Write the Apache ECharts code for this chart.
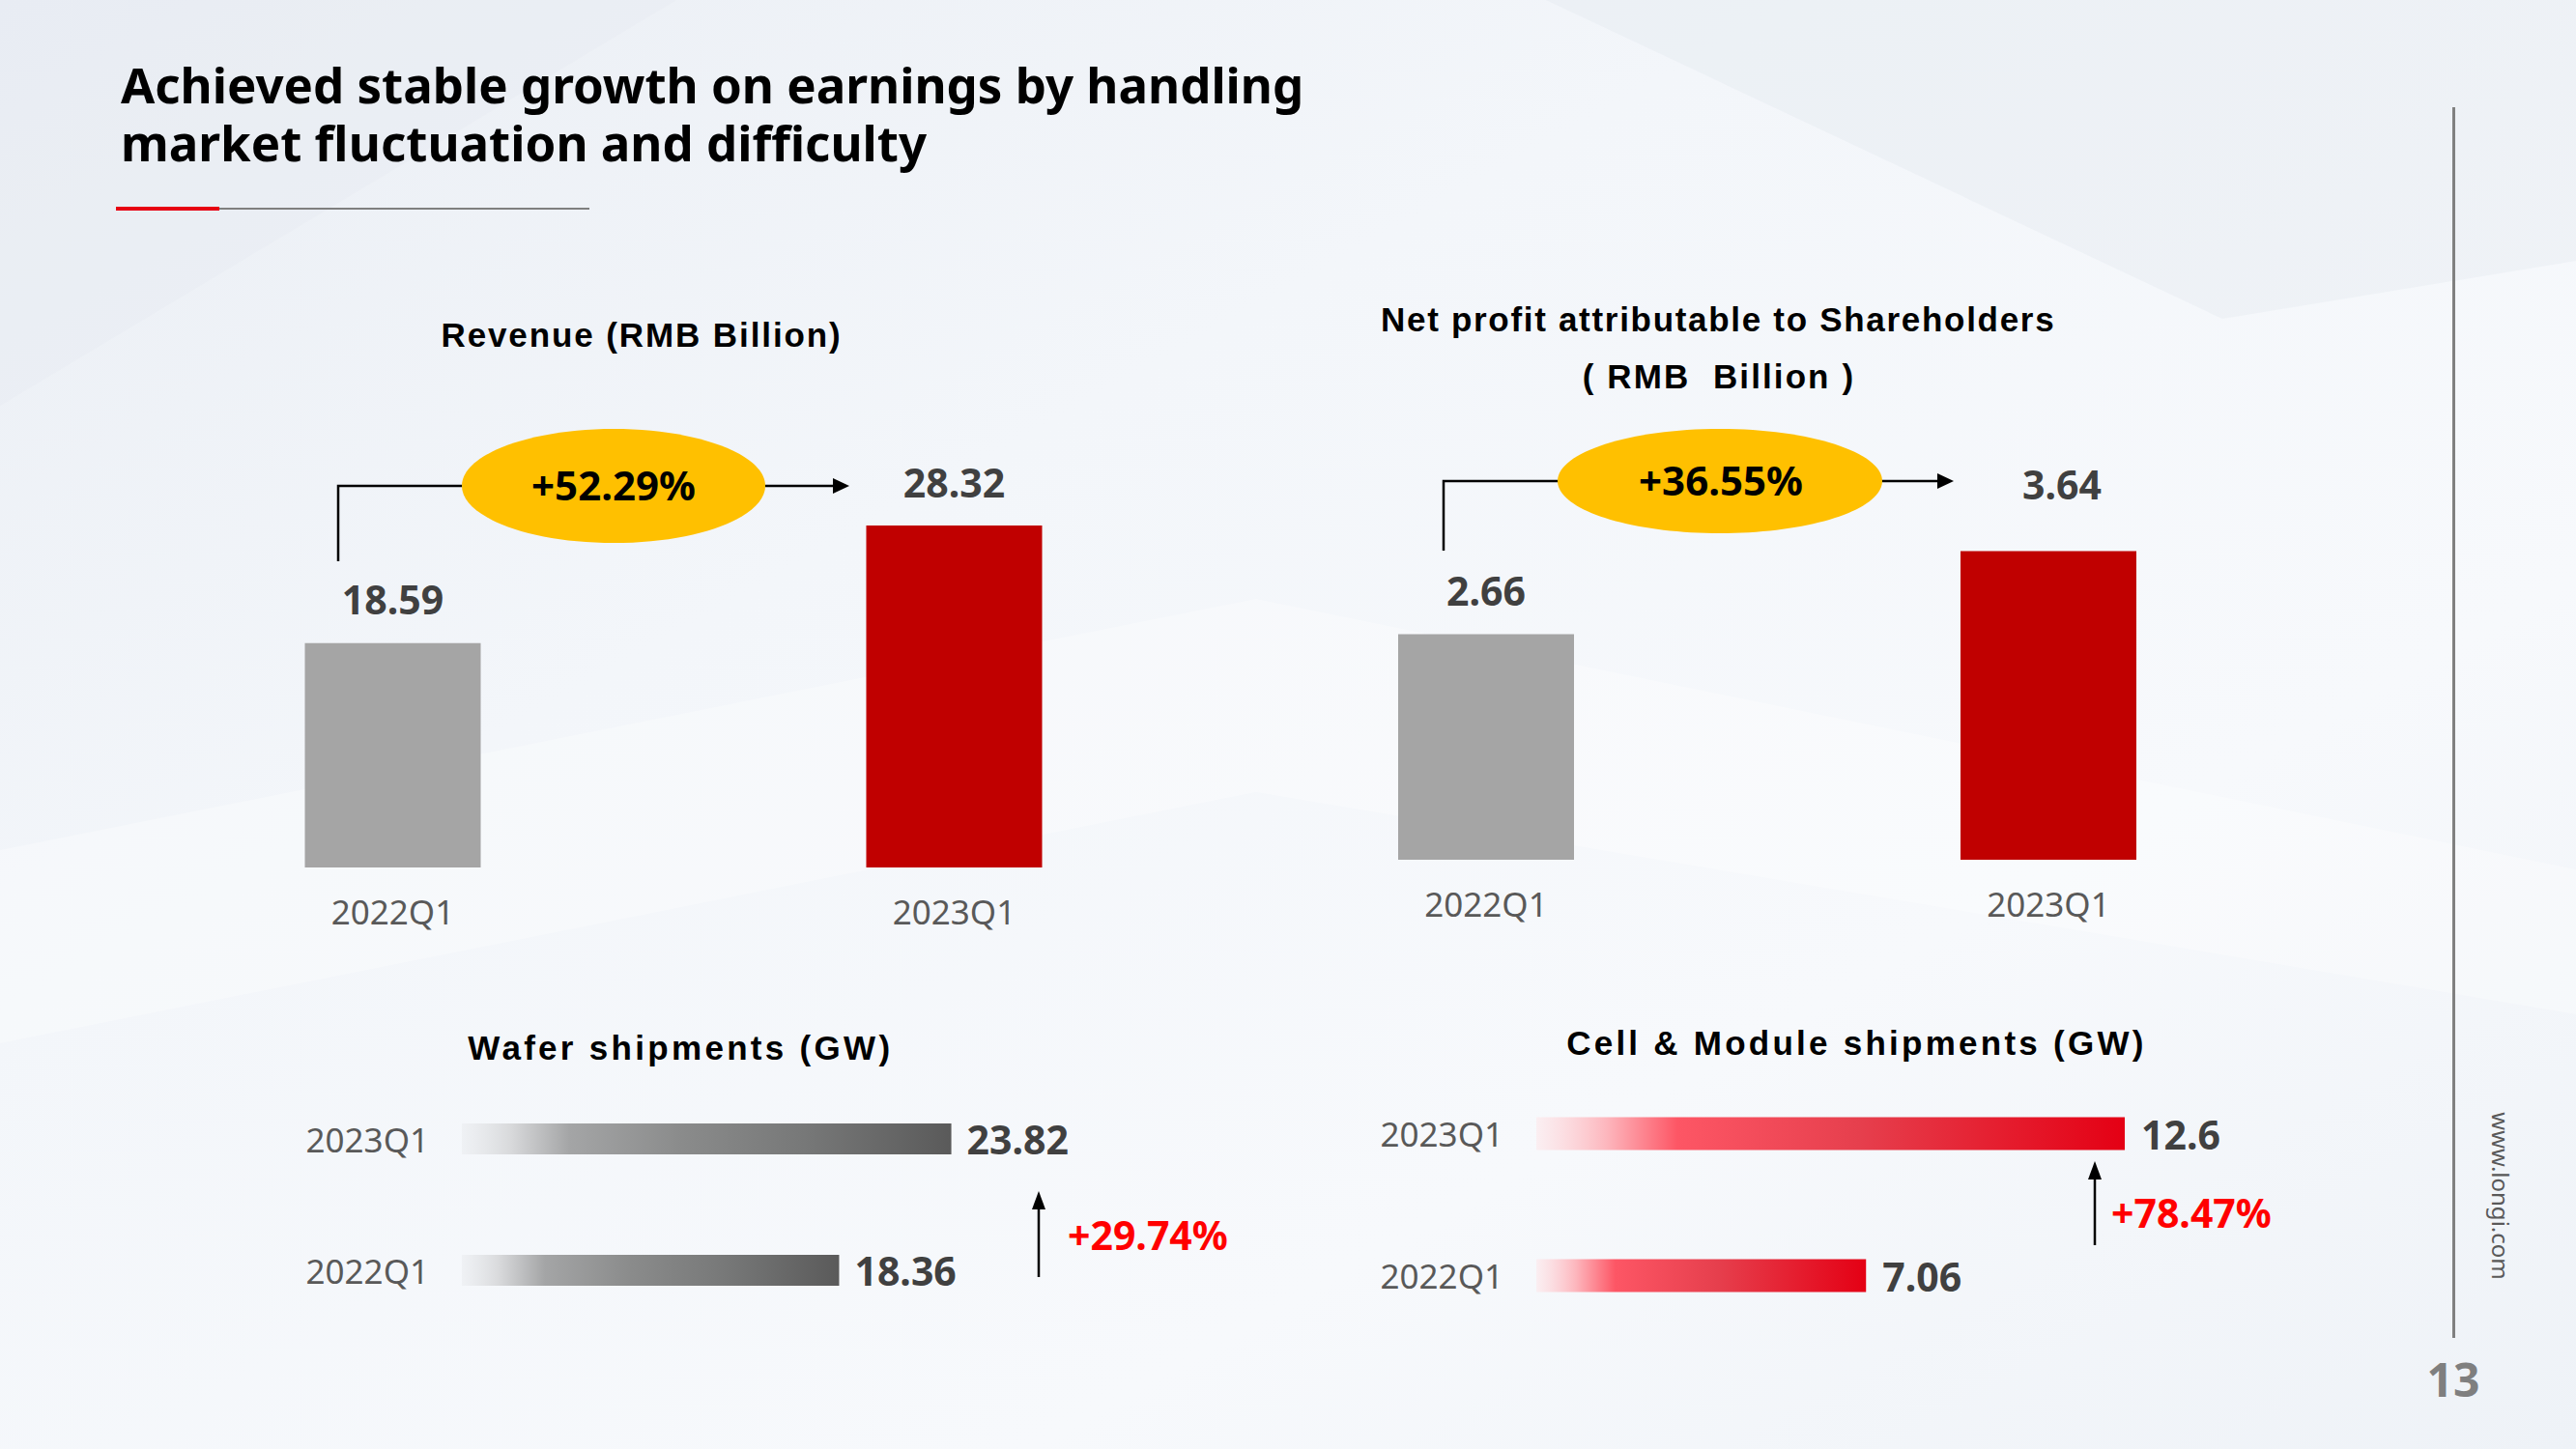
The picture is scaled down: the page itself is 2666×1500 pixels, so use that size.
<!DOCTYPE html>
<html><head><meta charset="utf-8">
<script src="https://cdn.jsdelivr.net/npm/echarts@6/dist/echarts.min.js"></script>
<style>html,body{margin:0;padding:0;width:2666px;height:1500px;overflow:hidden;background:#f3f6fa}#c{width:2666px;height:1500px}</style>
</head><body><div id="c"></div>
<script>
// ---- data ----
const periods = ['2022Q1', '2023Q1'];
const revenue = [18.59, 28.32];
const netProfit = [2.66, 3.64];
const wafer = [18.36, 23.82];
const cellModule = [7.06, 12.6];
const growth = ['+52.29%', '+36.55%', '+29.74%', '+78.47%'];
const mainTitle = ['Achieved stable growth on earnings by handling', 'market fluctuation and difficulty'];
const chartTitles = ['Revenue (RMB Billion)', 'Net profit attributable to Shareholders', '( RMB  Billion )', 'Wafer shipments (GW)', 'Cell & Module shipments (GW)'];
const pageNo = '13';
const site = 'www.longi.com';

// ---- styles ----
const colBar = ['#A5A5A5', '#C00000'];
const FONT = '"Noto Sans", "Open Sans", sans-serif';
const TFONT = '"Liberation Sans", Arial, sans-serif';
const titleSpacing = [1.9, 1.7, 2.1, 3.3, 3.25];
const grayGrad = new echarts.graphic.LinearGradient(0, 0, 1, 0, [
  {offset: 0, color: 'rgba(235,237,240,0.6)'},
  {offset: 0.1, color: '#d8d9db'},
  {offset: 0.22, color: '#a4a5a6'},
  {offset: 0.45, color: '#8a8b8b'},
  {offset: 0.7, color: '#777878'},
  {offset: 1, color: '#5a5a5a'}]);
const redGrad = new echarts.graphic.LinearGradient(0, 0, 1, 0, [
  {offset: 0, color: 'rgba(253,232,235,0.6)'},
  {offset: 0.12, color: '#fdb6bd'},
  {offset: 0.24, color: '#fd5665'},
  {offset: 0.55, color: '#e63f4d'},
  {offset: 1, color: '#e40014'}]);

const valLabel = {show: true, fontFamily: FONT, fontWeight: 'bold', fontSize: 41, color: '#404040'};
const catLabel = {fontFamily: FONT, fontSize: 35, color: '#595959'};

function vItems(vals, extra) {
  return vals.map((v, i) => Object.assign({value: v, itemStyle: {color: colBar[i]}}, extra ? extra[i] : {}));
}

const chart = echarts.init(document.getElementById('c'), null, {renderer: 'svg'});

function txt(x, y, text, size, weight, color, family, align, extra, styleExtra) {
  return Object.assign({type: 'text', x: x, y: y, silent: true, z: 10,
    style: Object.assign({text: text, fontSize: size, fontWeight: weight, fill: color, fontFamily: family,
      align: align || 'center', verticalAlign: 'middle'}, styleExtra || {})}, extra || {});
}

const graphics = [
  // background
  {type: 'rect', shape: {x: 0, y: 0, width: 2666, height: 1500}, z: -100, silent: true,
   style: {fill: new echarts.graphic.LinearGradient(0, 0, 1, 1, [
     {offset: 0, color: '#eaeef4'}, {offset: 0.35, color: '#f3f6fa'},
     {offset: 0.7, color: '#f7f9fc'}, {offset: 1, color: '#eef2f7'}])}},
  {type: 'polygon', shape: {points: [[0, 880], [1300, 620], [2666, 900], [2666, 1050], [1300, 820], [0, 1080]]}, z: -99, silent: true,
   style: {fill: 'rgba(255,255,255,0.3)'}},
  {type: 'polygon', shape: {points: [[1600, 0], [2666, 0], [2666, 270], [2300, 330]]}, z: -99, silent: true,
   style: {fill: 'rgba(222,228,236,0.3)'}},
  {type: 'polygon', shape: {points: [[0, 0], [700, 0], [0, 420]]}, z: -99, silent: true,
   style: {fill: 'rgba(226,231,238,0.25)'}},
  // heading underline
  {type: 'rect', shape: {x: 227, y: 215, width: 383, height: 2}, silent: true, style: {fill: '#7f7f7f'}},
  {type: 'rect', shape: {x: 120, y: 214, width: 107, height: 4}, silent: true, style: {fill: '#E60012'}},
  // right side line
  {type: 'rect', shape: {x: 2538, y: 111, width: 3, height: 1274}, silent: true, style: {fill: '#808080'}},
  // heading
  txt(125, 117, mainTitle.join('\n'), 51, 'bold', '#000', FONT, 'left', null, {lineHeight: 60}),
  // chart titles
  txt(665 - titleSpacing[0] / 2, 346, chartTitles[0], 35, 'bold', '#000', TFONT),
  txt(1779 - titleSpacing[1] / 2, 330, chartTitles[1], 35, 'bold', '#000', TFONT),
  txt(1780 - titleSpacing[2] / 2, 389, chartTitles[2], 35, 'bold', '#000', TFONT),
  txt(706 - titleSpacing[3] / 2, 1084, chartTitles[3], 35, 'bold', '#000', TFONT),
  txt(1923 - titleSpacing[4] / 2, 1079, chartTitles[4], 35, 'bold', '#000', TFONT),
  // revenue connector
  {type: 'polyline', shape: {points: [[350, 581], [350, 503], [478, 503]]}, silent: true, style: {stroke: '#000', lineWidth: 2.5, fill: null}},
  {type: 'line', shape: {x1: 792, y1: 503, x2: 866, y2: 503}, silent: true, style: {stroke: '#000', lineWidth: 2.5}},
  {type: 'polygon', shape: {points: [[879, 503], [862, 495], [862, 511]]}, silent: true, style: {fill: '#000'}},
  {type: 'ellipse', shape: {cx: 635, cy: 503, rx: 157, ry: 59}, silent: true, style: {fill: '#FFC000'}},
  txt(635, 501, growth[0], 42, 'bold', '#000', FONT),
  // net profit connector
  {type: 'polyline', shape: {points: [[1494, 570], [1494, 498], [1613, 498]]}, silent: true, style: {stroke: '#000', lineWidth: 2.5, fill: null}},
  {type: 'line', shape: {x1: 1947, y1: 498, x2: 2009, y2: 498}, silent: true, style: {stroke: '#000', lineWidth: 2.5}},
  {type: 'polygon', shape: {points: [[2022, 498], [2005, 490], [2005, 506]]}, silent: true, style: {fill: '#000'}},
  {type: 'ellipse', shape: {cx: 1780, cy: 498, rx: 168, ry: 54}, silent: true, style: {fill: '#FFC000'}},
  txt(1781, 496, growth[1], 42, 'bold', '#000', FONT),
  // wafer growth arrow
  {type: 'line', shape: {x1: 1075, y1: 1322, x2: 1075, y2: 1248}, silent: true, style: {stroke: '#000', lineWidth: 2.5}},
  {type: 'polygon', shape: {points: [[1075, 1233], [1068, 1252], [1082, 1252]]}, silent: true, style: {fill: '#000'}},
  txt(1105, 1278, growth[2], 41, 'bold', '#FF0000', FONT, 'left'),
  // cell growth arrow
  {type: 'line', shape: {x1: 2168, y1: 1289, x2: 2168, y2: 1218}, silent: true, style: {stroke: '#000', lineWidth: 2.5}},
  {type: 'polygon', shape: {points: [[2168, 1202], [2161, 1221], [2175, 1221]]}, silent: true, style: {fill: '#000'}},
  txt(2185, 1255, growth[3], 41, 'bold', '#FF0000', FONT, 'left'),
  // page number and site
  txt(2539, 1427, pageNo, 48, 'bold', '#7f7f7f', FONT),
  txt(2588, 1238, site, 24, 'normal', '#595959', FONT, 'center', {rotation: -Math.PI / 2})
];

const option = {
  backgroundColor: 'transparent',
  animation: false,
  graphic: {elements: graphics},
  grid: [
    {left: 116, top: 398, width: 1162, height: 500},
    {left: 1247, top: 451, width: 1164, height: 439},
    {left: 478, top: 1111, width: 638, height: 272},
    {left: 1590, top: 1100, width: 725, height: 294}
  ],
  xAxis: [
    {gridIndex: 0, type: 'category', data: periods, axisLine: {show: false}, axisTick: {show: false}, axisLabel: Object.assign({margin: 28}, catLabel)},
    {gridIndex: 1, type: 'category', data: periods, axisLine: {show: false}, axisTick: {show: false}, axisLabel: Object.assign({margin: 28}, catLabel)},
    {gridIndex: 2, type: 'value', min: 0, max: 30, show: false},
    {gridIndex: 3, type: 'value', min: 0, max: 15, show: false}
  ],
  yAxis: [
    {gridIndex: 0, type: 'value', min: 0, max: 40, show: false},
    {gridIndex: 1, type: 'value', min: 0, max: 5, show: false},
    {gridIndex: 2, type: 'category', data: periods, axisLine: {show: false}, axisTick: {show: false}, axisLabel: Object.assign({margin: 34}, catLabel)},
    {gridIndex: 3, type: 'category', data: periods, axisLine: {show: false}, axisTick: {show: false}, axisLabel: Object.assign({margin: 34}, catLabel)}
  ],
  series: [
    {type: 'bar', xAxisIndex: 0, yAxisIndex: 0, barWidth: 182, data: vItems(revenue),
     label: Object.assign({position: 'top', distance: 25}, valLabel)},
    {type: 'bar', xAxisIndex: 1, yAxisIndex: 1, barWidth: 182,
     data: vItems(netProfit, [{}, {label: {distance: 49, offset: [14, 0]}}]),
     label: Object.assign({position: 'top', distance: 25}, valLabel)},
    {type: 'bar', xAxisIndex: 2, yAxisIndex: 2, barWidth: 32, itemStyle: {color: grayGrad},
     data: wafer, label: Object.assign({position: 'right', distance: 16}, valLabel)},
    {type: 'bar', xAxisIndex: 3, yAxisIndex: 3, barWidth: 34, itemStyle: {color: redGrad},
     data: cellModule, label: Object.assign({position: 'right', distance: 17}, valLabel)}
  ]
};
chart.setOption(option);

// letter-spaced chart titles (as in the slide)
function spaceTitles() {
  const nodes = chart.getDom().querySelectorAll('text');
  nodes.forEach(n => {
    const i = chartTitles.indexOf(n.textContent);
    if (i >= 0) n.style.letterSpacing = titleSpacing[i] + 'px';
  });
}
spaceTitles();
chart.on('finished', spaceTitles);
</script></body></html>
